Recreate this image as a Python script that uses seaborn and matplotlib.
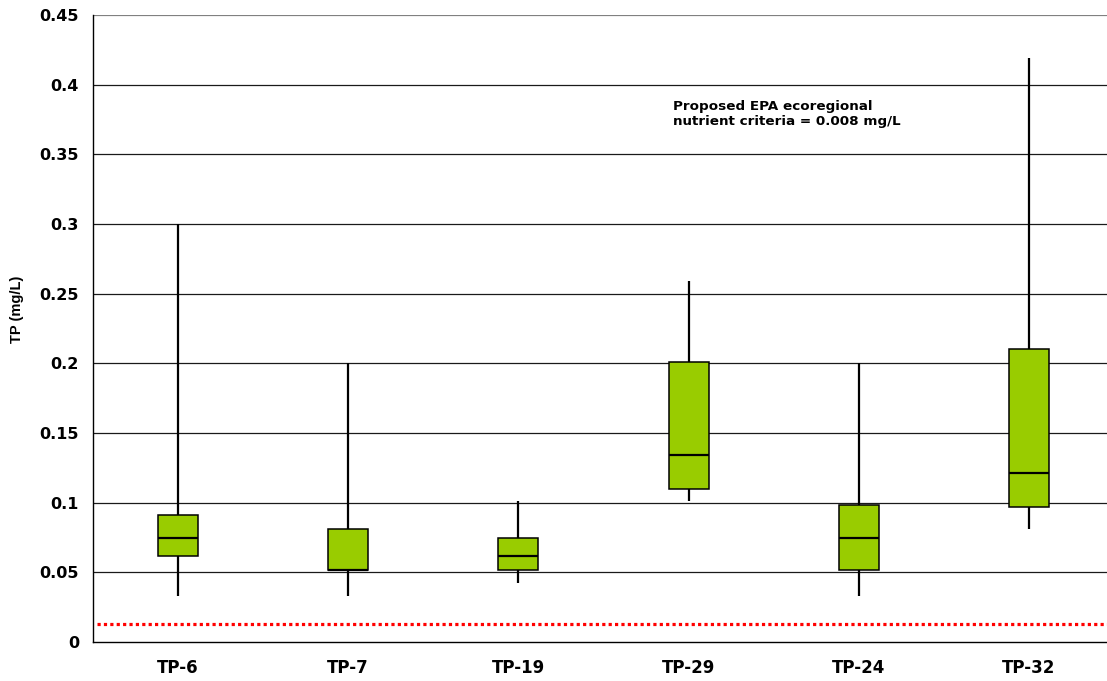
import numpy as np
import pandas as pd
import matplotlib
matplotlib.use("Agg")
import matplotlib.pyplot as plt
import seaborn as sns

# Station summaries of total phosphorus (mg/L)
stations = ["TP-6", "TP-7", "TP-19", "TP-29", "TP-24", "TP-32"]
tp_min = [0.033, 0.033, 0.042, 0.101, 0.033, 0.081]
tp_q1 = [0.062, 0.052, 0.052, 0.110, 0.052, 0.097]
tp_median = [0.075, 0.052, 0.062, 0.134, 0.075, 0.121]
tp_q3 = [0.091, 0.081, 0.075, 0.201, 0.098, 0.210]
tp_max = [0.300, 0.200, 0.101, 0.259, 0.200, 0.419]

criteria_line = 0.0128
y_ticks = [0, 0.05, 0.1, 0.15, 0.2, 0.25, 0.3, 0.35, 0.4, 0.45]
y_tick_labels = ["0", "0.05", "0.1", "0.15", "0.2", "0.25", "0.3", "0.35", "0.4", "0.45"]

# Five-number summary per station -> long-form table (whiskers span min..max)
rows = []
for s, a, b, c, d, e in zip(stations, tp_min, tp_q1, tp_median, tp_q3, tp_max):
    for v in (a, b, c, d, e):
        rows.append({"station": s, "tp": v})
df = pd.DataFrame(rows)

sns.set_theme(style="white")
plt.rcParams["font.family"] = ["DejaVu Sans"]
plt.rcParams["font.weight"] = "bold"
plt.rcParams["text.color"] = "black"
plt.rcParams["xtick.color"] = "black"
plt.rcParams["ytick.color"] = "black"
plt.rcParams["axes.labelcolor"] = "black"

fig = plt.figure(figsize=(11.07, 6.81), dpi=100)
ax = fig.add_axes([93 / 1107, 1 - 642 / 681, 1021 / 1107, 627 / 681])

for y in y_ticks[1:]:
    ax.axhline(y, color="#1a1a1a" if y < 0.45 else "#808080", lw=0.9 if y < 0.45 else 1.6, zorder=0)

sns.boxplot(
    data=df, x="station", y="tp", order=stations, ax=ax,
    whis=(0, 100), width=0.235, color="#99CC00", saturation=1,
    showcaps=False, showfliers=False,
    boxprops=dict(edgecolor="black", linewidth=1.1, facecolor="#99CC00"),
    whiskerprops=dict(color="black", linewidth=1.6),
    medianprops=dict(color="black", linewidth=1.6),
    zorder=3,
)

ax.axhline(criteria_line, color="#FF0000", xmin=0.004, lw=2.3, linestyle=(0, (1, 1)),
           dash_capstyle="butt", zorder=4)

ax.text(0.568, 0.864, "Proposed EPA ecoregional\nnutrient criteria = 0.008 mg/L",
        transform=ax.transAxes, fontsize=9.7, fontweight="bold", ha="left", va="top",
        linespacing=1.2, color="black")

ax.set_xlim(-0.5, 5.5)
ax.set_ylim(0, 0.45)
ax.set_yticks(y_ticks)
ax.set_yticklabels(y_tick_labels, fontsize=11.5, fontweight="bold", color="black")
ax.set_xticks(range(len(stations)))
ax.set_xticklabels(stations, fontsize=12, fontweight="bold", color="black")
ax.set_xticks(np.arange(-0.5, 6.0, 1.0), minor=True)
ax.tick_params(axis="x", which="major", length=0, pad=12, colors="black")
ax.tick_params(axis="x", which="minor", length=5, width=1, color="black", direction="out")
ax.tick_params(axis="y", which="major", length=5, width=1, color="black", direction="out", pad=5)
ax.set_xlabel("")
ax.set_ylabel("TP (mg/L)", fontsize=10.5, fontweight="bold", color="black",
              family=["Liberation Sans", "DejaVu Sans"])
ax.yaxis.set_label_coords(-0.068, 0.53)

for side in ("top", "right"):
    ax.spines[side].set_visible(False)
for side in ("left", "bottom"):
    ax.spines[side].set_color("black")
    ax.spines[side].set_linewidth(1.0)

fig.savefig("out.png", dpi=100)
